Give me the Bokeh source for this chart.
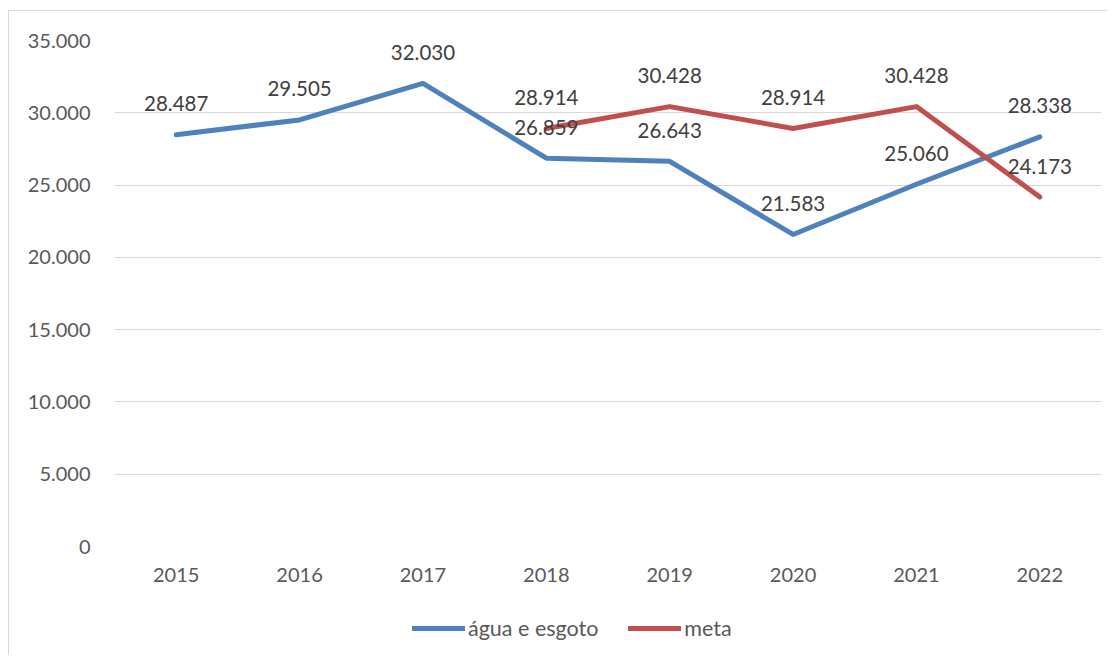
from bokeh.plotting import figure
from bokeh.layouts import column
from bokeh.models import (ColumnDataSource, LabelSet, Legend, LegendItem, Range1d,
                          FactorRange, FixedTicker, CustomJSTickFormatter)
from bokeh.embed import file_html
from bokeh.resources import INLINE
from bokeh.core.properties import value

years = ["2015", "2016", "2017", "2018", "2019", "2020", "2021", "2022"]
agua = [28487, 29505, 32030, 26859, 26643, 21583, 25060, 28338]
meta_years = ["2018", "2019", "2020", "2021", "2022"]
meta = [28914, 30428, 28914, 30428, 24173]
y_ticks = [0, 5000, 10000, 15000, 20000, 25000, 30000, 35000]

BLUE = "#4F81BD"
RED = "#C0504D"
FONT = "Lato"
BORDER = "1px solid #d9d9d9"


def fmt(v):
    return f"{v:,}".replace(",", ".")


src_a = ColumnDataSource(dict(x=years, y=agua, t=[fmt(v) for v in agua]))
src_m = ColumnDataSource(dict(x=meta_years, y=meta, t=[fmt(v) for v in meta]))

line_kw = dict(line_width=5, line_cap="round", line_join="round")

# main chart
p = figure(width=1099, height=590, output_backend="svg", toolbar_location=None,
           x_range=FactorRange(*years), y_range=Range1d(0, 35000),
           min_border_left=105, min_border_right=7, min_border_top=29,
           min_border_bottom=55)
p.margin = (10, 0, 0, 8)
p.styles = {"border-left": BORDER, "border-top": BORDER}
p.outline_line_color = None
p.background_fill_color = "white"
p.border_fill_color = "white"

p.line("x", "y", source=src_a, line_color=BLUE, **line_kw)
p.line("x", "y", source=src_m, line_color=RED, **line_kw)

for src in (src_a, src_m):
    p.add_layout(LabelSet(x="x", y="y", text="t", source=src, y_offset=31,
                          text_align="center", text_baseline="middle",
                          text_font=value(FONT), text_font_size="20.5px",
                          text_color="#404040"))

p.xgrid.grid_line_color = None
p.ygrid.grid_line_color = "#d9d9d9"
p.ygrid.grid_line_width = 1
p.yaxis.ticker = FixedTicker(ticks=y_ticks)
p.yaxis.formatter = CustomJSTickFormatter(
    code="return Math.round(tick).toString().replace(/\\B(?=(\\d{3})+(?!\\d))/g, '.');")

for ax in (p.xaxis, p.yaxis):
    ax.axis_line_color = None
    ax.major_tick_line_color = None
    ax.minor_tick_line_color = None
    ax.major_label_text_font = FONT
    ax.major_label_text_font_size = "20px"
    ax.major_label_text_color = "#595959"
p.yaxis.major_label_standoff = 18
p.xaxis.major_label_standoff = 15

# legend strip (same series, drawn outside its visible range, used only for the legend)
p2 = figure(width=1099, height=55, output_backend="svg", toolbar_location=None,
            x_range=FactorRange(*years), y_range=Range1d(-2, -1),
            min_border=0)
p2.margin = (0, 0, 0, 8)
p2.styles = {"border-left": BORDER}
p2.outline_line_color = None
p2.axis.visible = False
p2.grid.visible = False
r_a = p2.line("x", "y", source=src_a, line_color=BLUE, **line_kw)
r_m = p2.line("x", "y", source=src_m, line_color=RED, **line_kw)

legend = Legend(items=[LegendItem(label="água e esgoto", renderers=[r_a]),
                       LegendItem(label="meta", renderers=[r_m])],
                orientation="horizontal", location=(298, 14),
                border_line_color=None, background_fill_alpha=0,
                glyph_width=53, glyph_height=24, label_standoff=3, spacing=30,
                label_text_font=FONT, label_text_font_size="21.5px",
                label_text_color="#595959", margin=0, padding=6)
p2.add_layout(legend, "center")

layout = column(p, p2, spacing=0)
open("out.html", "w").write(file_html(layout, INLINE))
